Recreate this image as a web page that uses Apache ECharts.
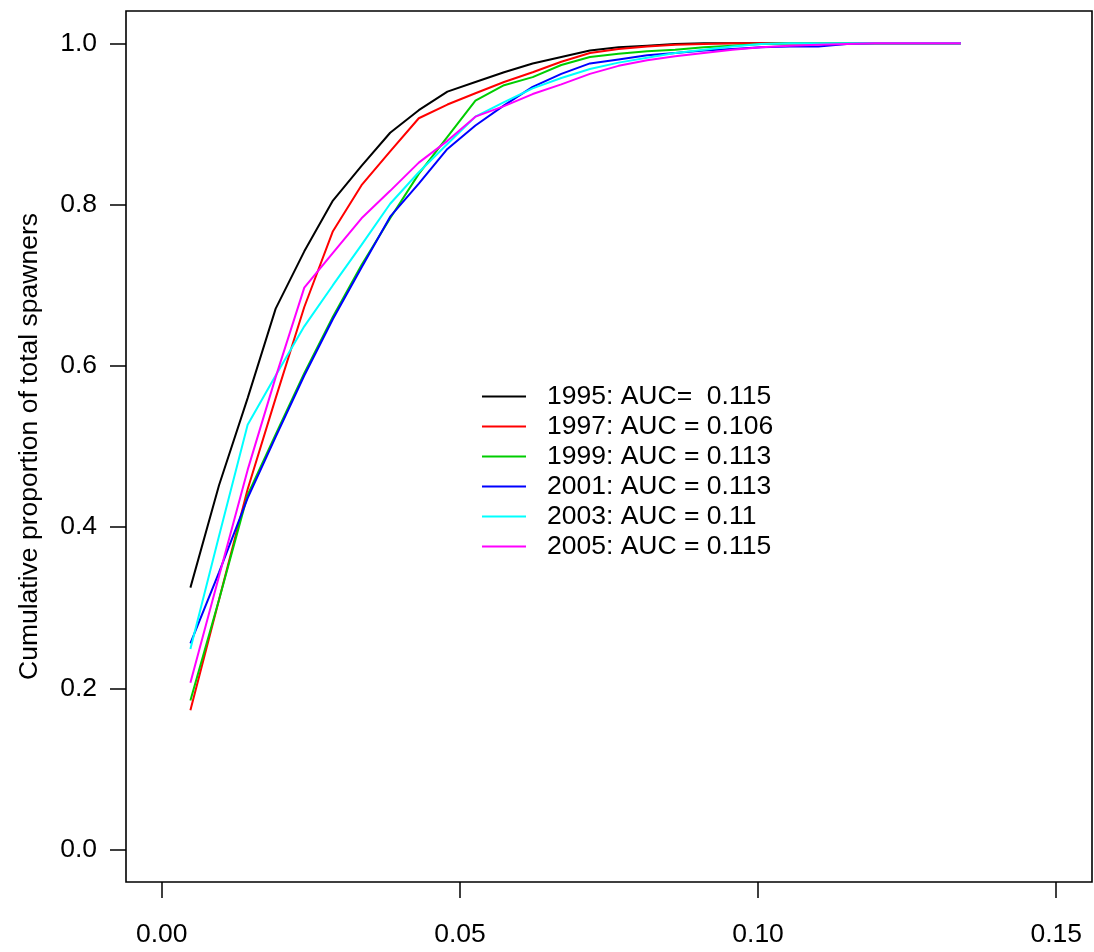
<!DOCTYPE html>
<html>
<head>
<meta charset="utf-8">
<script src="https://cdn.jsdelivr.net/npm/echarts@6/dist/echarts.min.js"></script>
<style>html,body{margin:0;padding:0;background:#fff}#c{width:1094px;height:952px}</style>
</head>
<body>
<div id="c"></div>
<script>
var xValues = [0.0048, 0.0096, 0.0144, 0.0191, 0.0239, 0.0287, 0.0335, 0.0383, 0.0431, 0.0479,
  0.0526, 0.0574, 0.0622, 0.0670, 0.0718, 0.0766, 0.0814, 0.0861, 0.0909, 0.0957,
  0.1005, 0.1053, 0.1101, 0.1149, 0.1196, 0.1244, 0.1292, 0.1340];

var seriesNames = ["1995: AUC=  0.115", "1997: AUC = 0.106", "1999: AUC = 0.113",
  "2001: AUC = 0.113", "2003: AUC = 0.11", "2005: AUC = 0.115"];
var seriesColors = ["#000000", "#FF0000", "#00CD00", "#0000FF", "#00FFFF", "#FF00FF"];

var y1995 = [0.325, 0.452, 0.560, 0.671, 0.742, 0.805, 0.848, 0.889, 0.917, 0.940,
  0.952, 0.964, 0.975, 0.983, 0.991, 0.995, 0.997, 0.999, 1.0, 1.0,
  1.0, 1.0, 1.0, 1.0, 1.0, 1.0, 1.0, 1.0];
var y1997 = [0.173, 0.310, 0.447, 0.560, 0.673, 0.767, 0.824, 0.866, 0.907, 0.924,
  0.938, 0.952, 0.964, 0.977, 0.988, 0.993, 0.996, 0.998, 0.999, 1.0,
  1.0, 1.0, 1.0, 1.0, 1.0, 1.0, 1.0, 1.0];
var y1999 = [0.185, 0.310, 0.440, 0.515, 0.591, 0.661, 0.725, 0.783, 0.838, 0.884,
  0.929, 0.948, 0.958, 0.973, 0.983, 0.987, 0.990, 0.992, 0.995, 0.997,
  0.999, 1.0, 1.0, 1.0, 1.0, 1.0, 1.0, 1.0];
var y2001 = [0.256, 0.344, 0.436, 0.512, 0.588, 0.658, 0.722, 0.785, 0.826, 0.869,
  0.898, 0.923, 0.946, 0.962, 0.975, 0.980, 0.985, 0.988, 0.991, 0.993,
  0.995, 0.996, 0.996, 0.999, 1.0, 1.0, 1.0, 1.0];
var y2003 = [0.249, 0.389, 0.527, 0.588, 0.649, 0.700, 0.750, 0.801, 0.840, 0.875,
  0.909, 0.927, 0.944, 0.957, 0.968, 0.976, 0.982, 0.988, 0.992, 0.996,
  0.999, 1.0, 1.0, 1.0, 1.0, 1.0, 1.0, 1.0];
var y2005 = [0.207, 0.339, 0.471, 0.586, 0.697, 0.740, 0.783, 0.817, 0.852, 0.879,
  0.909, 0.922, 0.937, 0.949, 0.962, 0.972, 0.979, 0.984, 0.988, 0.992,
  0.995, 0.997, 0.998, 0.999, 1.0, 1.0, 1.0, 1.0];

var xTicks = [0, 0.05, 0.10, 0.15];
var xTickLabels = ["0.00", "0.05", "0.10", "0.15"];
var yTicks = [0, 0.2, 0.4, 0.6, 0.8, 1.0];
var yTickLabels = ["0.0", "0.2", "0.4", "0.6", "0.8", "1.0"];
var yTitle = "Cumulative proportion of total spawners";

var allY = [y1995, y1997, y1999, y2001, y2003, y2005];
var FONT = "Liberation Sans, Arial, sans-serif";
var FS = 26.5;

function labelFor(ticks, labels) {
  return function (v) {
    for (var i = 0; i < ticks.length; i++) {
      if (Math.abs(ticks[i] - v) < 1e-9) return labels[i];
    }
    return "";
  };
}

var series = allY.map(function (ys, k) {
  return {
    name: seriesNames[k],
    type: "line",
    data: xValues.map(function (x, i) { return [x, ys[i]]; }),
    showSymbol: false,
    symbol: "none",
    lineStyle: { color: seriesColors[k], width: 2 },
    itemStyle: { color: seriesColors[k] },
    animation: false
  };
});

var chart = echarts.init(document.getElementById("c"), null, { renderer: "canvas" });
chart.setOption({
  animation: false,
  backgroundColor: "#ffffff",
  color: seriesColors,
  grid: {
    left: 126, right: 2, top: 11, bottom: 70,
    show: true, borderColor: "#000", borderWidth: 1.6, backgroundColor: "transparent"
  },
  legend: {
    orient: "vertical",
    left: 482, top: 383,
    padding: 0,
    itemGap: 3,
    itemWidth: 44,
    itemHeight: 2,
    icon: "rect",
    data: seriesNames,
    textStyle: { fontFamily: FONT, fontSize: FS, color: "#000", lineHeight: 26, height: 26, padding: [0, 0, 0, 16] },
    selectedMode: false
  },
  xAxis: {
    type: "value",
    min: -0.006, max: 0.156,
    axisLine: { show: false, onZero: false },
    splitLine: { show: false },
    axisTick: { show: true, inside: false, length: 16, customValues: xTicks, lineStyle: { color: "#000", width: 1.5 } },
    axisLabel: {
      show: true, customValues: xTicks, margin: 39,
      formatter: labelFor(xTicks, xTickLabels),
      fontFamily: FONT, fontSize: FS, color: "#000"
    }
  },
  yAxis: {
    type: "value",
    min: -0.04, max: 1.04,
    name: yTitle,
    nameLocation: "middle",
    nameGap: 83,
    nameTextStyle: { fontFamily: FONT, fontSize: FS, color: "#000" },
    axisLine: { show: false, onZero: false },
    splitLine: { show: false },
    axisTick: { show: true, inside: false, length: 16, customValues: yTicks, lineStyle: { color: "#000", width: 1.5 } },
    axisLabel: {
      show: true, customValues: yTicks, margin: 29,
      formatter: labelFor(yTicks, yTickLabels),
      fontFamily: FONT, fontSize: FS, color: "#000"
    }
  },
  series: series
});
</script>
</body>
</html>
